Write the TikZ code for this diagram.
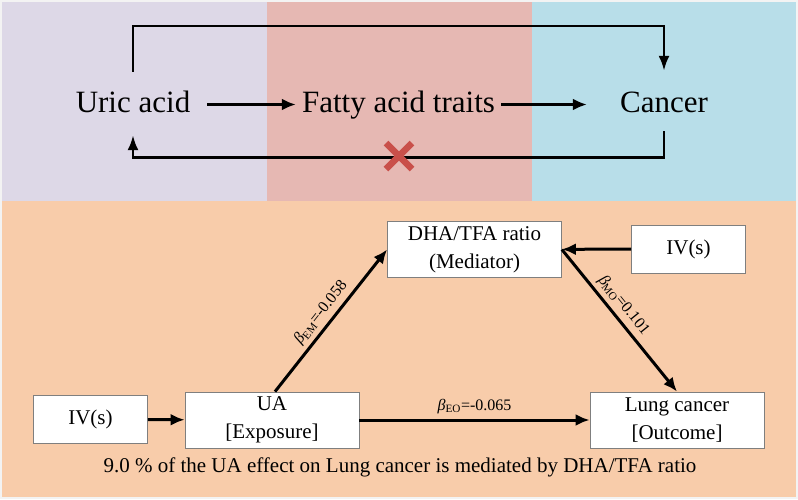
\documentclass[tikz,border=0pt]{standalone}
\usepackage{fontspec}
\setmainfont{Liberation Serif}
\usetikzlibrary{arrows.meta,positioning,calc}

\begin{document}
\begin{tikzpicture}[x=1pt,y=-1pt,
  every node/.style={font=\fontsize{21}{28}\selectfont},
  big/.style={font=\fontsize{31}{34}\selectfont,inner sep=0pt,text height=22pt,text depth=7pt},
  box/.style={draw=BORDER,fill=white,line width=.8pt,align=center,minimum width=174pt,minimum height=56pt,inner sep=0pt},
  ivbox/.style={box,minimum width=114pt,minimum height=48pt},
  link/.style={line width=3pt,-{Latex[length=14pt,width=12pt]}},
  loopline/.style={line width=2.6pt,-{Latex[length=15pt,width=11pt]}},
  coef/.style={font=\fontsize{16}{18}\selectfont,inner sep=2pt}]
\definecolor{MARGIN}{HTML}{F3F3F3}
\definecolor{LAVENDER}{HTML}{DDD8E7}
\definecolor{ROSE}{HTML}{E6B8B3}
\definecolor{SKY}{HTML}{B8DEE9}
\definecolor{PEACH}{HTML}{F8CCAA}
\definecolor{CROSS}{HTML}{C9504A}
\definecolor{BORDER}{HTML}{7F7F7F}
\useasboundingbox (0,0) rectangle (798,499);
\fill[MARGIN] (0,0) rectangle (798,499);
\fill[LAVENDER] (2,2) rectangle (267,200.5);
\fill[ROSE] (267,2) rectangle (532,200.5);
\fill[SKY] (532,2) rectangle (796,200.5);
\fill[PEACH] (2,200.5) rectangle (796,497);
\node[big] (uric) at (133,104.5) {Uric acid};
\node[big,inner xsep=6pt] (fatty) at (398.5,104.5) {Fatty acid traits};
\node[big] (cancer) at (664,104.5) {Cancer};
\draw[link,shorten <=17pt] (uric) -- (fatty);
\draw[link,shorten >=33pt] (fatty) -- (cancer);
\draw[loopline,shorten <=18pt,shorten >=19pt] (uric.north) -- ++(0,-64) -| (cancer.north);
\draw[loopline,shorten <=12pt,shorten >=16pt] (cancer.south) -- ++(0,38) -| (uric.south);
\draw[CROSS,line width=6.5pt] (386,143) -- (412,169) (386,169) -- (412,143);
\node[box] (med) at (474.5,249.5) {DHA/TFA ratio\\(Mediator)};
\node[ivbox] (ivm) at (688.5,249) {IV(s)};
\node[box] (expo) at (272,420) {UA\\{[Exposure]}};
\node[box] (outc) at (677,420) {Lung cancer\\{[Outcome]}};
\node[ivbox] (ive) at (90.5,419.5) {IV(s)};
\node (note) at (400,467) {9.0 \% of the UA effect on Lung cancer is mediated by DHA/TFA ratio};
\draw[link] (ive) -- (expo);
\draw[link] (expo) -- node[coef,above=3pt] {\textit{β}\textsubscript{EO}=-0.065} (outc);
\draw[link] (ivm) -- (med);
\draw[link] ([xshift=3pt]expo.north) -- node[coef,sloped,above=2pt] {\textit{β}\textsubscript{EM}=-0.058} (med.west);
\draw[link] (med.east) -- node[coef,sloped,above=2pt,pos=.45] {\textit{β}\textsubscript{MO}=0.101} (outc.north);
\end{tikzpicture}
\end{document}
